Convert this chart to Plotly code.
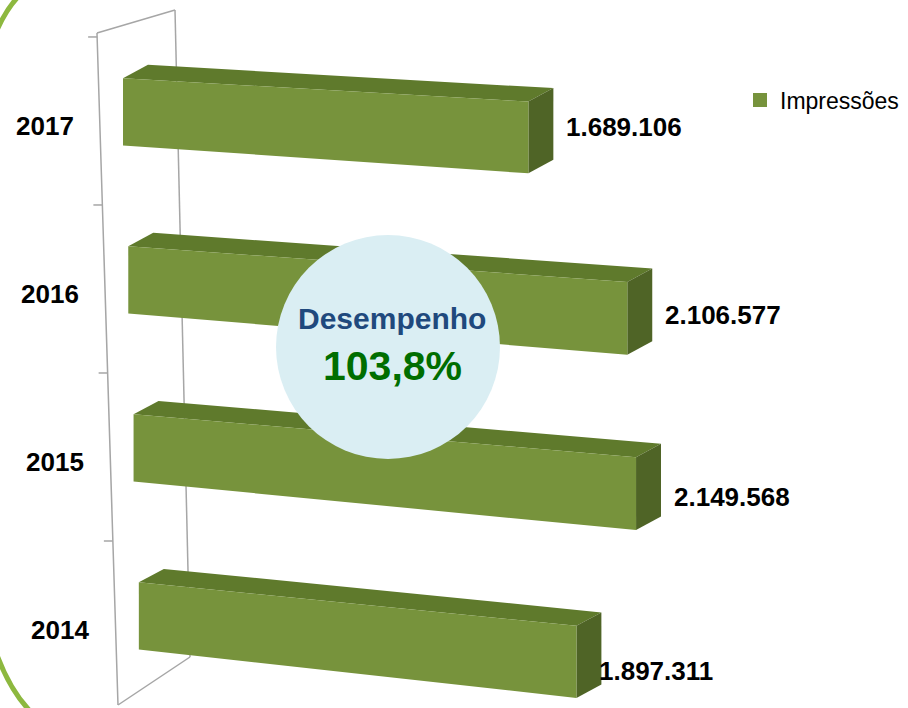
import plotly.graph_objects as go

# data
years = ['2014', '2015', '2016', '2017']
impressoes = [1897311, 2149568, 2106577, 1689106]
series_name = 'Impressões'
kpi_title = 'Desempenho'
kpi_value = '103,8%'

W, H = 908, 708
FONT = 'Liberation Sans, Arial, sans-serif'
FRONT = '#77933C'
TOP = '#5F7A2C'
SIDE = '#4F6426'
GRID = '#A6A6A6'

# axis ranges (x in impressions, y in category rows)
X0, X1 = -0.5125e6, -0.5125e6 + W / 240 * 1e6
Y0, Y1 = -0.494, 3.720


def fmt(v):
    return f'{v:,}'.replace(',', '.')


def px(x, y):
    """pixel position -> paper fraction"""
    return x / W, 1 - y / H


def ypix(y):
    return (Y1 - y) * H / (Y1 - Y0)


fig = go.Figure()

# pseudo-3D bars built from the values
DX, DY = 0.104e6, 0.08
for i, (yr, v) in enumerate(zip(years, impressoes)):
    depth = 3 - i
    xl = depth * 0.022e6
    ve = v * (1 - 0.013 * depth)
    xr = xl + ve
    yc = i + 0.054
    h = 0.20
    drop = (0.09 + 0.02 * depth) * ve / 1e6
    grow = 0.008 * ve / 1e6
    flt = (xl, yc + h)
    frt = (xr, yc + h - drop + grow)
    frb = (xr, yc - h - drop - grow)
    flb = (xl, yc - h)

    faces = [
        ([flt, frt, (frt[0] + DX, frt[1] + DY), (flt[0] + DX, flt[1] + DY)], TOP),
        ([frt, (frt[0] + DX, frt[1] + DY), (frb[0] + DX, frb[1] + DY), frb], SIDE),
        ([flt, frt, frb, flb], FRONT),
    ]
    for pts, col in faces:
        fig.add_trace(go.Scatter(
            x=[p[0] for p in pts] + [pts[0][0]],
            y=[p[1] for p in pts] + [pts[0][1]],
            mode='lines', fill='toself', fillcolor=col,
            line=dict(width=0, color=col),
            showlegend=False, hoverinfo='skip'
        ))

    # value label
    fig.add_annotation(
        x=xr, y=yc - drop, xref='x', yref='y',
        text=f'<b>{fmt(v)}</b>', showarrow=False,
        xanchor='left', yanchor='middle',
        xshift=36 if depth < 3 else 21, yshift=10 - 6.5 * depth,
        font=dict(family=FONT, size=26, color='black')
    )
    # category label
    fig.add_annotation(
        x=(45 + 5 * depth - 123) / 240 * 1e6, y=i - 0.03, xref='x', yref='y',
        text=f'<b>{yr}</b>', showarrow=False,
        xanchor='center', yanchor='middle',
        font=dict(family=FONT, size=26, color='black')
    )

# legend entry
fig.add_trace(go.Scatter(
    x=[None], y=[None], mode='markers', name=series_name,
    marker=dict(symbol='square', size=14, color=FRONT)
))

shapes = []
# chart walls (grey frame)
wall = [((97, 33), (118, 705)), ((175, 10), (190, 657)),
        ((97, 33), (175, 10)), ((118, 705), (190, 657))]
for (a, b) in wall:
    (x0, y0), (x1, y1) = px(*a), px(*b)
    shapes.append(dict(type='line', xref='paper', yref='paper',
                       x0=x0, y0=y0, x1=x1, y1=y1, layer='below',
                       line=dict(color=GRID, width=1.5)))
for k in range(len(years) + 1):
    yp = ypix(k - 0.5)
    xf = 97 + 21 * (yp - 33) / 672
    (x0, y0), (x1, y1) = px(xf - 9, yp), px(xf, yp)
    shapes.append(dict(type='line', xref='paper', yref='paper',
                       x0=x0, y0=y0, x1=x1, y1=y1, layer='below',
                       line=dict(color=GRID, width=1.5)))

# slide border arcs
def path(p0, c, p1):
    a, b, d = px(*p0), px(*c), px(*p1)
    return f'M {a[0]},{a[1]} Q {b[0]},{b[1]} {d[0]},{d[1]}'

for p0, c, p1 in [((-3, 30), (6, 10), (17, -2)), ((-3, 655), (10, 690), (30, 711))]:
    shapes.append(dict(type='path', xref='paper', yref='paper',
                       path=path(p0, c, p1),
                       line=dict(color='#8DB83F', width=5)))

# performance bubble
cx, cy, r = 388, 347, 112
(bx0, by0), (bx1, by1) = px(cx - r, cy + r), px(cx + r, cy - r)
shapes.append(dict(type='circle', xref='paper', yref='paper',
                   x0=bx0, y0=by0, x1=bx1, y1=by1,
                   fillcolor='#DAEEF3', line=dict(width=0)))

fig.add_annotation(x=px(cx + 4, 318)[0], y=px(cx, 318)[1], xref='paper', yref='paper',
                   text=f'<b>{kpi_title}</b>', showarrow=False,
                   font=dict(family=FONT, size=30, color='#1F497D'))
fig.add_annotation(x=px(cx + 4, 366)[0], y=px(cx, 366)[1], xref='paper', yref='paper',
                   text=f'<b>{kpi_value}</b>', showarrow=False,
                   font=dict(family=FONT, size=41, color='#006E00'))

fig.update_layout(
    width=W, height=H,
    margin=dict(l=0, r=0, t=0, b=0),
    plot_bgcolor='white', paper_bgcolor='white',
    shapes=shapes,
    showlegend=True,
    legend=dict(x=740 / W, xanchor='left', y=1 - 100 / H, yanchor='middle',
                font=dict(family=FONT, size=23, color='black'),
                bgcolor='rgba(0,0,0,0)', itemwidth=30),
    xaxis=dict(range=[X0, X1], visible=False, fixedrange=True),
    yaxis=dict(range=[Y0, Y1], visible=False, fixedrange=True),
)

# drop the default page margin so the figure fills the window exactly
fig.write_html('out.html', config={'displayModeBar': False},
               post_script="document.body.style.margin='0px';")
